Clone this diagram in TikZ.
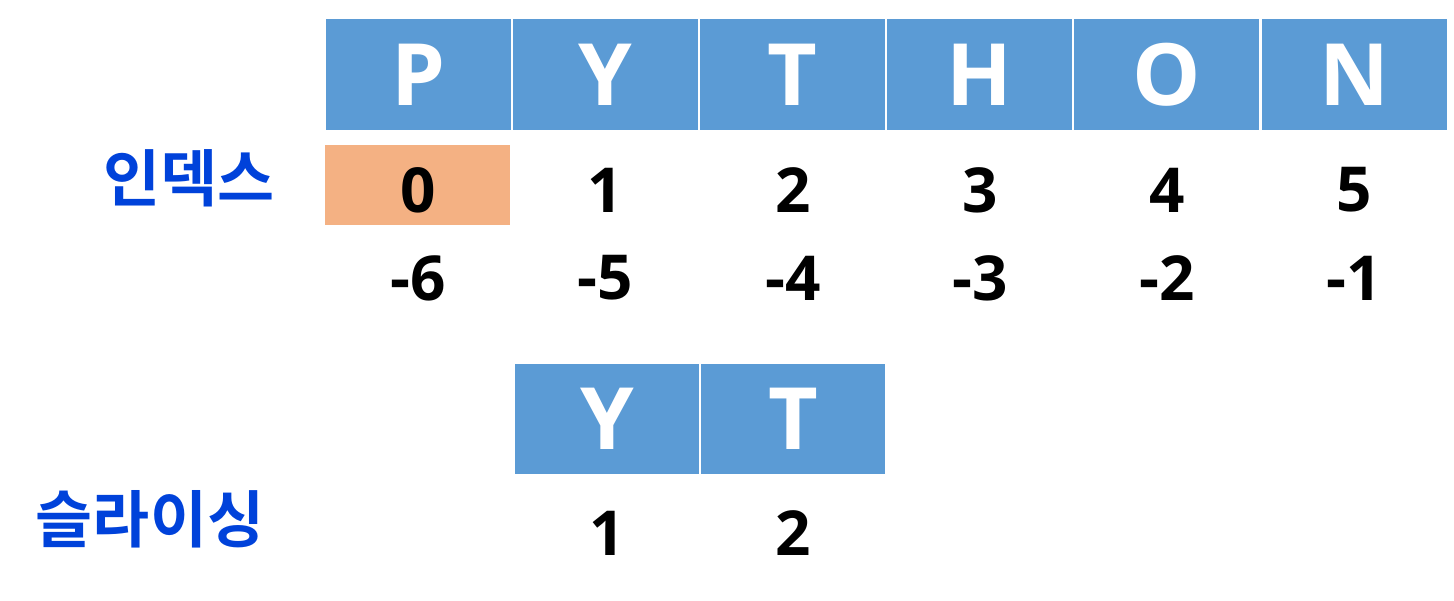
\documentclass[tikz,border=0pt]{standalone}
\usepackage{fontspec}
\setmainfont{Open Sans}
\newfontfamily\krfont{Noto Sans CJK KR}[BoldFont={* Bold}]
\definecolor{cellblue}{HTML}{5B9BD5}
\definecolor{cellorange}{HTML}{F4B183}
\definecolor{labelblue}{HTML}{0042DA}
\begin{document}
\begin{tikzpicture}[x=1pt,y=-1pt,
  cell/.style={fill=cellblue,draw=white,line width=2pt,minimum width=187pt,minimum height=113pt,inner sep=0pt,text=white,font=\fontsize{86}{86}\selectfont\bfseries},
  idx/.style={inner sep=0pt,text=black,font=\fontsize{62}{62}\selectfont\bfseries},
  lbl/.style={inner sep=0pt,text=labelblue,font=\krfont\fontsize{62}{62}\selectfont\bfseries}]
\useasboundingbox (0,0) rectangle (1454,600);
\fill[cellorange] (325,145) rectangle (510,225);
\foreach \ch [count=\i from 0] in {P,Y,T,H,O,N}{
  \node[cell] (c\i) at ({418.5+187.1*\i},74.5) {\ch};
}
\foreach \i in {0,...,5}{
  \node[idx] (p\i) at ({418.5+187.1*\i},190) {\i};
}
\foreach \v [count=\i from 0] in {-6,-5,-4,-3,-2,-1}{
  \node[idx] (n\i) at ({418.5+187.1*\i},278) {\v};
}
\node[cell,minimum width=186pt,minimum height=112pt] (sy) at (607,419) {Y};
\node[cell,minimum width=186pt,minimum height=112pt] (st) at (793,419) {T};
\node[idx] (s1) at (607,533) {1};
\node[idx] (s2) at (793,533) {2};
\node[lbl] (l1) at (189,178) {인덱스};
\node[lbl] (l2) at (150,519) {슬라이싱};
\end{tikzpicture}
\end{document}
